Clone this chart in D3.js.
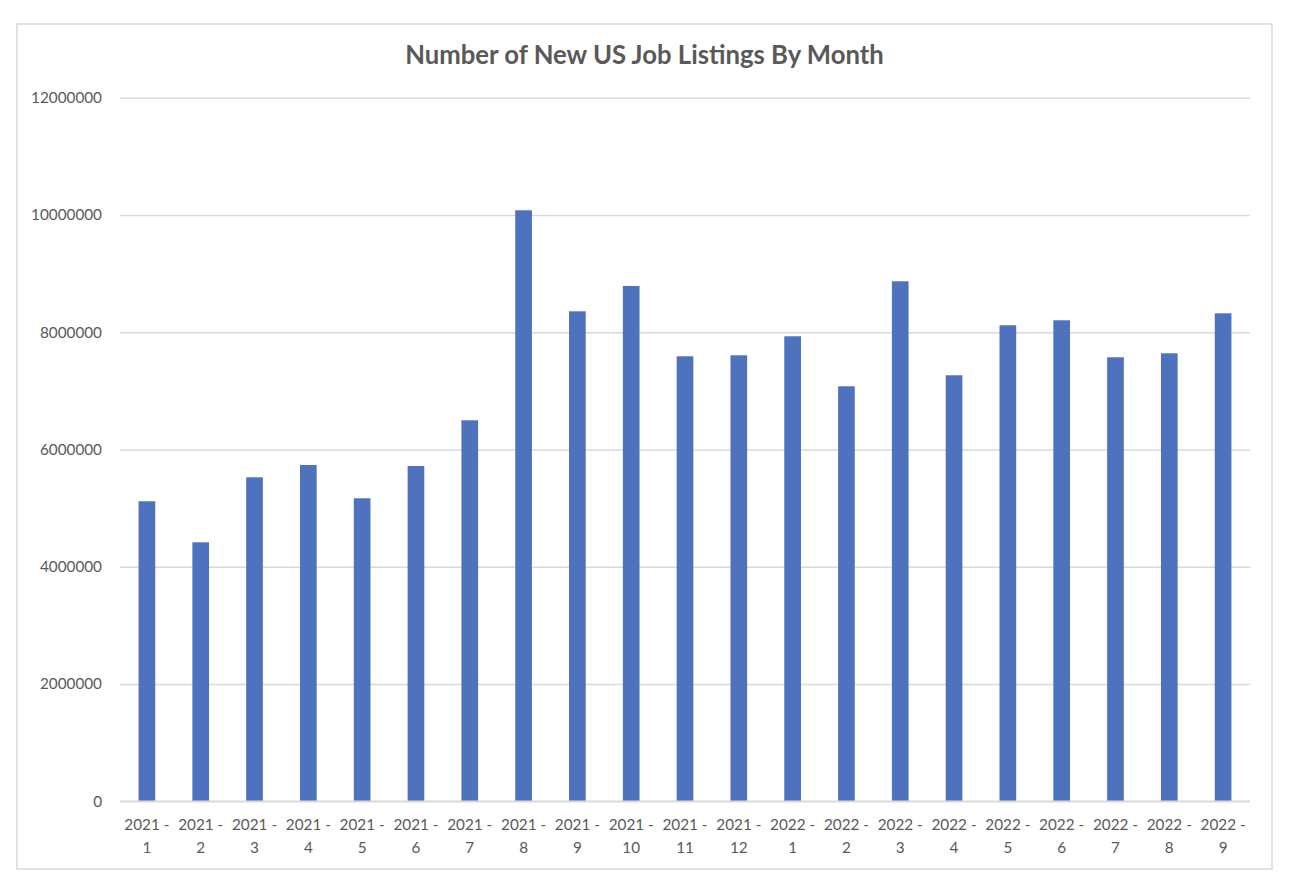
<!DOCTYPE html>
<html>
<head>
<meta charset="utf-8">
<script src="https://cdn.jsdelivr.net/npm/d3@7"></script>
<style>
  html, body { margin: 0; padding: 0; background: #ffffff; }
  svg { display: block; }
</style>
</head>
<body>
<svg id="chart" width="1306" height="892"></svg>
<script>
// ---- Data ----
const chartTitle = "Number of New US Job Listings By Month";
const categories = [
  "2021 - 1", "2021 - 2", "2021 - 3", "2021 - 4", "2021 - 5", "2021 - 6",
  "2021 - 7", "2021 - 8", "2021 - 9", "2021 - 10", "2021 - 11", "2021 - 12",
  "2022 - 1", "2022 - 2", "2022 - 3", "2022 - 4", "2022 - 5", "2022 - 6",
  "2022 - 7", "2022 - 8", "2022 - 9"
];
const listings = [
  5117000, 4417000, 5526000, 5736000, 5168000, 5719000,
  6498000, 10080000, 8357000, 8789000, 7590000, 7607000,
  7931000, 7078000, 8869000, 7266000, 8119000, 8204000,
  7573000, 7641000, 8323000
];
const yTicks = [0, 2000000, 4000000, 6000000, 8000000, 10000000, 12000000];

// ---- Layout ----
const svg = d3.select("#chart");
const textColor = "#595959";
const gridColor = "#d9d9d9";
const barColor = "#4e72be";
const font = "Lato, 'Open Sans', sans-serif";

const plot = { left: 120, right: 1250, top: 97.7, bottom: 801.3 };

// chart border
svg.append("rect")
  .attr("x", 17).attr("y", 24)
  .attr("width", 1255).attr("height", 845)
  .attr("fill", "#ffffff")
  .attr("stroke", gridColor).attr("stroke-width", 1.5);

const x = d3.scaleBand()
  .domain(categories)
  .range([plot.left, plot.right])
  .paddingInner(0.69)
  .paddingOuter(0.345);

const y = d3.scaleLinear()
  .domain([0, 12000000])
  .range([plot.bottom, plot.top]);

// gridlines + y labels
const yAxis = d3.axisLeft(y)
  .tickValues(yTicks)
  .tickFormat(d3.format("d"))
  .tickSize(-(plot.right - plot.left))
  .tickPadding(18);

const yg = svg.append("g")
  .attr("transform", `translate(${plot.left},0)`)
  .call(yAxis);
yg.select(".domain").remove();
yg.selectAll(".tick line").attr("stroke", gridColor).attr("stroke-width", 1.5);
yg.selectAll(".tick text")
  .attr("fill", textColor)
  .style("font-family", font)
  .style("font-size", "15.3px");

// bars
svg.append("g").selectAll("rect")
  .data(listings)
  .join("rect")
  .attr("x", (d, i) => x(categories[i]))
  .attr("width", x.bandwidth())
  .attr("y", d => y(d))
  .attr("height", d => y(0) - y(d))
  .attr("fill", barColor);

// x axis
const xAxis = d3.axisBottom(x).tickSize(0).tickPadding(0);
const xg = svg.append("g")
  .attr("transform", `translate(0,${y(0)})`)
  .call(xAxis);
xg.select(".domain").attr("stroke", gridColor).attr("stroke-width", 1.5)
  .attr("d", `M${plot.left},0H${plot.right}`);
xg.selectAll(".tick text")
  .attr("fill", textColor)
  .style("font-family", font)
  .style("font-size", "15.3px")
  .attr("y", null).attr("dy", null)
  .each(function(d) {
    const parts = d.split(" - ");
    const t = d3.select(this).text(null);
    t.append("tspan").attr("x", 0).attr("y", 29).text(parts[0] + " -");
    t.append("tspan").attr("x", 0).attr("y", 52).text(parts[1]);
  });

// title
const title = svg.append("text")
  .attr("x", 644.5).attr("y", 64)
  .attr("text-anchor", "middle")
  .attr("fill", textColor)
  .style("font-family", font)
  .style("font-weight", "bold")
  .style("font-size", "22px")
  .text(chartTitle);
const w = title.node().getComputedTextLength();
if (w > 0) title.style("font-size", (22 * 479 / w).toFixed(2) + "px");
</script>
</body>
</html>
